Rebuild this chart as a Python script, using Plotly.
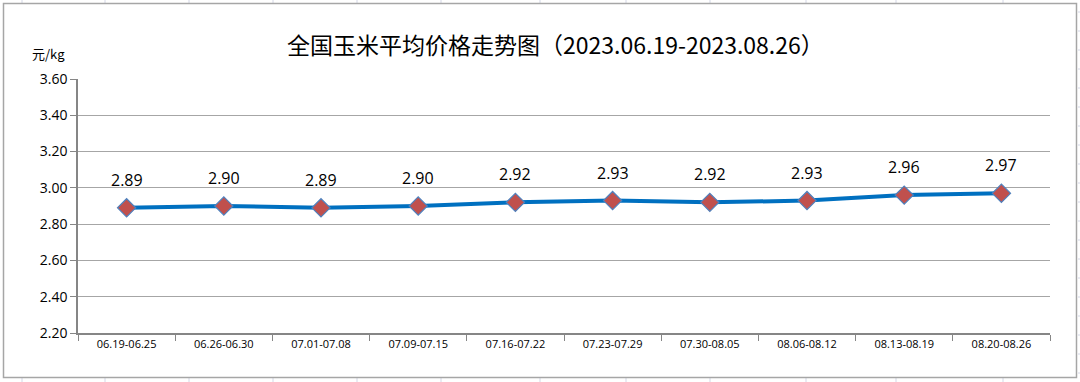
import plotly.graph_objects as go

categories = ["06.19-06.25", "06.26-06.30", "07.01-07.08", "07.09-07.15", "07.16-07.22",
              "07.23-07.29", "07.30-08.05", "08.06-08.12", "08.13-08.19", "08.20-08.26"]
prices = [2.89, 2.90, 2.89, 2.90, 2.92, 2.93, 2.92, 2.93, 2.96, 2.97]
y_ticks = [2.20, 2.40, 2.60, 2.80, 3.00, 3.20, 3.40, 3.60]

W, H = 1080, 382
L, R, T, B = 78, 30, 79, 49
pw, ph = W - L - R, H - T - B

def px_x(p):
    return (p - L) / pw

def px_y(p):
    return (H - B - p) / ph

fig = go.Figure()
fig.add_trace(go.Scatter(
    x=categories, y=prices, mode="lines+markers",
    line=dict(color="#0070C0", width=4),
    marker=dict(symbol="diamond", size=14, color="#C0504D",
                line=dict(color="#4F81BD", width=1.2)),
    showlegend=False, hoverinfo="x+y",
))

for c, v in zip(categories, prices):
    fig.add_annotation(x=c, y=v, text=f"{v:.2f}", showarrow=False, yshift=28,
                       font=dict(family="Open Sans, Liberation Sans, sans-serif", size=16, color="#000"))

fig.add_annotation(xref="paper", yref="paper", x=px_x(555), y=px_y(44),
                   xanchor="center", yanchor="middle",
                   text="全国玉米平均价格走势图（2023.06.19-2023.08.26）", showarrow=False,
                   font=dict(family="Noto Sans CJK SC", size=23, color="#000"))
fig.add_annotation(xref="paper", yref="paper", x=px_x(48), y=px_y(54),
                   xanchor="center", yanchor="middle",
                   text="元/kg", showarrow=False,
                   font=dict(family="Noto Sans CJK SC", size=13, color="#000"))

# faint spreadsheet cell lines outside the chart frame
cell_x = [22, 105, 189, 273, 357, 441, 540, 626, 710, 806, 896, 1003]
for cx in cell_x:
    for (ya, yb) in [(0, 3), (378, 382)]:
        fig.add_shape(type="line", xref="paper", yref="paper",
                      x0=px_x(cx), x1=px_x(cx), y0=px_y(ya), y1=px_y(yb),
                      line=dict(color="#D4D7E6", width=1), layer="below")
for cy in range(12, 382, 19):
    fig.add_shape(type="line", xref="paper", yref="paper",
                  x0=px_x(1078), x1=px_x(1080), y0=px_y(cy), y1=px_y(cy),
                  line=dict(color="#D4D7E6", width=1), layer="below")

# chart frame
fig.add_shape(type="rect", xref="paper", yref="paper",
              x0=px_x(3.5), x1=px_x(1076.5), y0=px_y(377.5), y1=px_y(3.5),
              line=dict(color="#A6A6A6", width=1.5), layer="below")

fig.update_layout(
    width=W, height=H,
    margin=dict(l=L, r=R, t=T, b=B),
    paper_bgcolor="white", plot_bgcolor="white",
)
fig.update_xaxes(
    type="category", tickson="boundaries", ticks="outside", ticklen=6, tickcolor="#868686",
    showline=True, linecolor="#868686", linewidth=1.5, showgrid=False,
    tickfont=dict(family="Open Sans, Liberation Sans, sans-serif", size=11, color="#000"),
    range=[-0.5, len(categories) - 0.5],
)
fig.update_yaxes(
    range=[2.2, 3.6], tickvals=y_ticks, ticktext=[f"{v:.2f}" for v in y_ticks],
    ticks="outside", ticklen=6, tickcolor="#868686",
    showline=True, linecolor="#868686", linewidth=1.5,
    showgrid=True, gridcolor="#A6A6A6", gridwidth=1.2, zeroline=False,
    tickfont=dict(family="Open Sans, Liberation Sans, sans-serif", size=14, color="#000"),
)

fig.write_html("out.html", config={"displayModeBar": False},
               post_script="document.body.style.margin='0';document.body.style.overflow='hidden';")
